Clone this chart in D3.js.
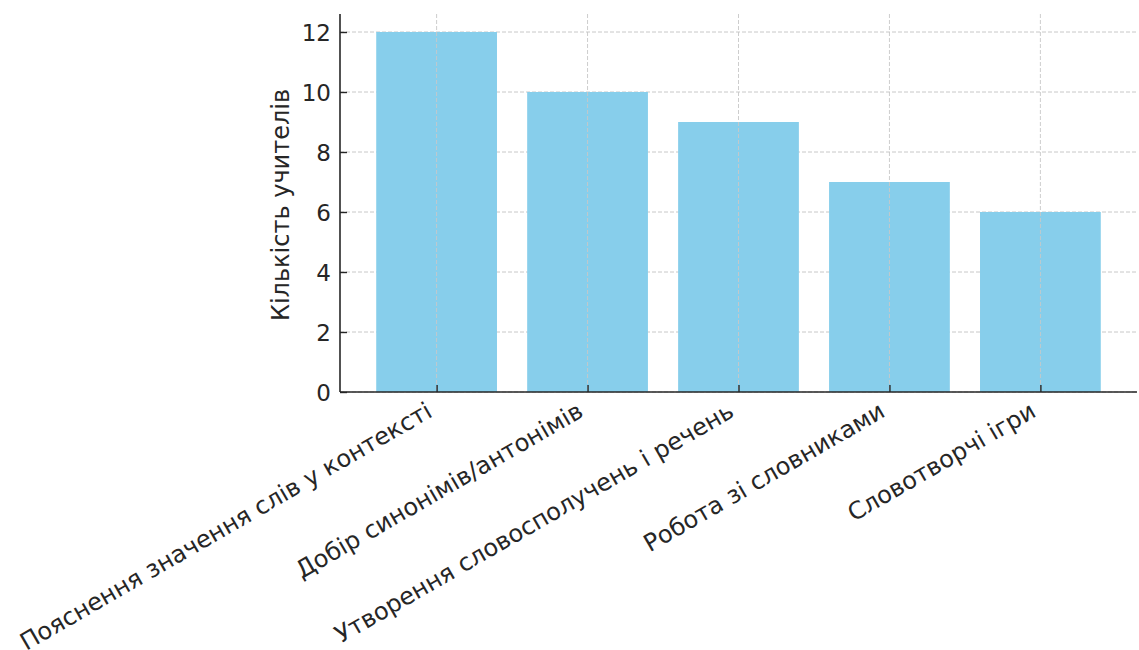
<!DOCTYPE html>
<html><head><meta charset="utf-8">
<script src="https://cdn.jsdelivr.net/npm/d3@7"></script>
<style>
html,body{margin:0;padding:0;background:#fff;}
svg{display:block;}
svg text{font-family:"DejaVu Sans",sans-serif;}
</style></head>
<body>
<svg id="chart" width="1139" height="650"></svg>
<script>
const categories = ["Пояснення значення слів у контексті","Добір синонімів/антонімів","Утворення словосполучень і речень","Робота зі словниками","Словотворчі ігри"];
const values = [12, 10, 9, 7, 6];
const yTicks = [0, 2, 4, 6, 8, 10, 12];
const yLabel = "Кількість учителів";

const svg = d3.select("#chart");
const mLeft = 340, mRight = 1137, mTop = 14, mBottom = 392;
const textColor = "#262626";
const fs = 24;

const x = d3.scaleLinear().domain([-0.64, categories.length - 1 + 0.64]).range([mLeft, mRight]);
const y = d3.scaleLinear().domain([0, 12.6]).range([mBottom, mTop]);
const bw = x(0.4) - x(-0.4);

// horizontal grid (behind bars)
svg.append("g").selectAll("line").data(yTicks).join("line")
  .attr("x1", mLeft).attr("x2", mRight)
  .attr("y1", d => y(d)).attr("y2", d => y(d))
  .attr("stroke", "#c8c8c8").attr("stroke-width", 1).attr("stroke-dasharray", "4,2");

// bars
svg.append("g").selectAll("rect").data(values).join("rect")
  .attr("x", (d, i) => x(i) - bw / 2)
  .attr("width", bw)
  .attr("y", d => y(d))
  .attr("height", d => y(0) - y(d))
  .attr("fill", "#87CEEB");

// vertical grid (visible over bars)
svg.append("g").selectAll("line").data(categories).join("line")
  .attr("x1", (d, i) => x(i)).attr("x2", (d, i) => x(i))
  .attr("y1", mTop).attr("y2", mBottom)
  .attr("stroke", "#c8c8c8").attr("stroke-opacity", 0.9).attr("stroke-width", 1).attr("stroke-dasharray", "4,2");

// y axis
const yAxis = svg.append("g").attr("transform", `translate(${mLeft},0)`)
  .call(d3.axisLeft(y).tickValues(yTicks).tickSize(-7).tickPadding(9).tickFormat(d3.format("d")));
yAxis.attr("font-family", "DejaVu Sans").attr("font-size", 23);
yAxis.select(".domain").attr("stroke", textColor).attr("stroke-width", 1.6).attr("d", `M0,${mTop}V${mBottom}`);
yAxis.selectAll(".tick line").attr("stroke", textColor).attr("stroke-width", 1.4);
yAxis.selectAll(".tick text").attr("fill", textColor).attr("dy", "0.36em");

// x axis
const xAxis = svg.append("g").attr("transform", `translate(0,${mBottom})`)
  .call(d3.axisBottom(x).tickValues(d3.range(categories.length)).tickSize(-7).tickFormat(() => ""));
xAxis.select(".domain").attr("stroke", textColor).attr("stroke-width", 1.6).attr("d", `M${mLeft},0H${mRight}`);
xAxis.selectAll(".tick line").attr("stroke", textColor).attr("stroke-width", 1.4);

// x labels rotated
svg.append("g").attr("font-family", "DejaVu Sans").attr("font-size", fs)
  .selectAll("text").data(categories).join("text")
  .attr("transform", (d, i) => `translate(${x(i) - 0.5 * fs * 0.24},${mBottom + 8 + 0.866 * fs * 0.76}) rotate(-30)`)
  .attr("text-anchor", "end")
  .attr("fill", textColor)
  .text(d => d);

// y label
svg.append("text")
  .attr("transform", `translate(289,${(mTop + mBottom) / 2 + 2}) rotate(-90)`)
  .attr("text-anchor", "middle")
  .attr("fill", textColor)
  .attr("font-family", "DejaVu Sans").attr("font-size", fs)
  .text(yLabel);
</script>
</body></html>
